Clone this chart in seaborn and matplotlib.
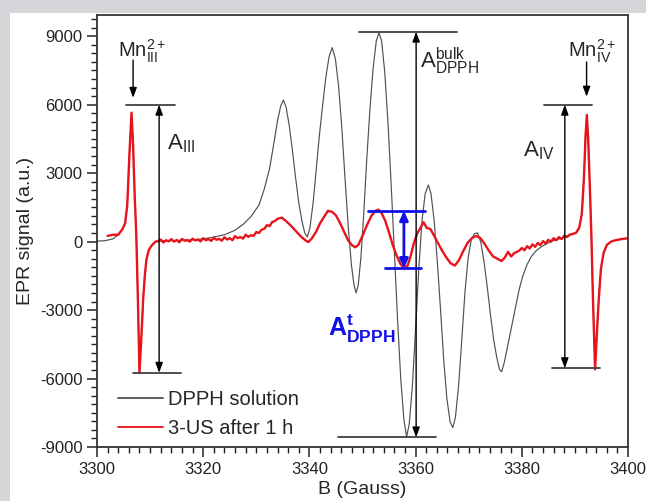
import numpy as np
import pandas as pd
import matplotlib
matplotlib.use("Agg")
import matplotlib.pyplot as plt
from matplotlib.patches import Rectangle
from matplotlib.ticker import MultipleLocator, AutoMinorLocator
import seaborn as sns

# ---------------- data ----------------
# shared Mn(2+) marker lines (present in both spectra)
mn3_b = [3304.0, 3304.8, 3305.3, 3305.7, 3306.1, 3306.5, 3306.8, 3307.1, 3307.4, 3307.7,
         3308.0, 3308.4, 3308.7, 3309.0, 3309.3, 3309.7, 3310.2, 3311.0]
mn3_y = [300, 550, 800, 1600, 3800, 5650, 4200, 2000, 300, -2500,
         -5750, -4000, -2500, -1500, -800, -400, -200, 0]

mn4_b = [3389.5, 3390.2, 3390.8, 3391.3, 3391.7, 3392.0, 3392.25, 3392.5, 3392.8, 3393.1,
         3393.4, 3393.8, 3394.1, 3394.5, 3394.9, 3395.4, 3396.0, 3396.8, 3397.5, 3398.5, 3400.0]
mn4_y = [330, 380, 600, 1200, 2800, 4600, 5550, 4500, 2500, 300,
         -2500, -5600, -4200, -2500, -1200, -500, -150, 0, 50, 100, 150]

# DPPH solution (bulk) between the Mn lines
dpph_lead_b = [3300.0, 3301.5, 3303.0]
dpph_lead_y = [20, 40, 120]
dpph_b = [3312, 3315, 3318, 3320, 3322, 3324, 3326, 3327.5, 3329, 3330.5, 3331.5, 3332.5,
          3333.3, 3334.0, 3334.6, 3335.1, 3335.6, 3336.2, 3336.8, 3337.4, 3338.0, 3338.6,
          3339.1, 3339.6, 3340.1, 3340.7, 3341.3, 3341.9, 3342.5, 3343.1, 3343.7, 3344.3,
          3344.9, 3345.5, 3346.1, 3346.7, 3347.3, 3347.9, 3348.4, 3348.8, 3349.2, 3349.7,
          3350.2, 3350.8, 3351.4, 3352.0, 3352.6, 3353.1, 3353.6, 3354.2, 3354.8, 3355.4,
          3356.0, 3356.6, 3357.2, 3357.8, 3358.3, 3358.8, 3359.4, 3360.0, 3360.6, 3361.2,
          3361.8, 3362.4, 3362.9, 3363.5, 3364.1, 3364.7, 3365.3, 3365.9, 3366.5, 3367.0,
          3367.5, 3368.1, 3368.7, 3369.3, 3369.9, 3370.5, 3371.1, 3371.7, 3372.3, 3372.9,
          3373.5, 3374.1, 3374.7, 3375.3, 3375.8, 3376.2, 3376.7, 3377.4, 3378.1, 3378.8,
          3379.5, 3380.2, 3381.0, 3381.8, 3382.7, 3383.7, 3384.8, 3386.0, 3387.5, 3388.5, 3389.0]
dpph_y = [30, 50, 80, 120, 200, 300, 500, 750, 1100, 1600, 2300, 3200,
          4300, 5300, 5950, 6200, 5900, 5100, 4000, 2800, 1700, 900,
          400, 200, 600, 1700, 3200, 4700, 6000, 7200, 8100, 8500,
          8000, 6800, 5000, 2800, 700, -1000, -1900, -2250, -1900, -700,
          1100, 3600, 5800, 7600, 8800, 9150, 8800, 7400, 5200, 2500,
          -400, -3400, -6000, -7800, -8550, -8000, -6300, -3800, -1200, 900,
          2100, 2480, 2100, 900, -900, -3000, -5200, -6900, -7900, -8150,
          -7700, -6300, -4300, -2200, -700, 100, 350, 380, -50, -900,
          -2000, -3200, -4300, -5100, -5600, -5700, -5300, -4500, -3700, -2900,
          -2100, -1500, -1000, -650, -400, -220, -80, 50, 150, 250, 300]

# 3-US after 1 h (noisy trace, read point by point)
us_lead_b = [3302.0, 3303.0]
us_lead_y = [250, 300]
us_b = [3311.5, 3312, 3312.5, 3313, 3313.5, 3314, 3314.5, 3315, 3315.5, 3316, 3316.5, 3317,
        3317.5, 3318, 3318.5, 3319, 3319.5, 3320, 3320.5, 3321, 3321.5, 3322, 3322.5, 3323,
        3323.5, 3324, 3324.5, 3325, 3325.5, 3326, 3326.5, 3327, 3327.5, 3328, 3328.5, 3329,
        3329.5, 3330, 3330.5, 3331, 3331.5, 3332, 3332.5, 3333, 3333.5, 3334, 3334.8, 3335.6,
        3336.5, 3337.5, 3338.5, 3339.3, 3339.8, 3340.5, 3341.3, 3342, 3342.8, 3343.5, 3344.3,
        3345, 3345.8, 3346.5, 3347.3, 3348, 3348.6, 3349.2, 3350, 3350.8, 3351.6, 3352.4,
        3353.0, 3353.6, 3354.3, 3355, 3355.7, 3356.4, 3357.2, 3357.9, 3358.5, 3359.1, 3359.7,
        3360.3, 3360.9, 3361.5, 3362.1, 3362.8, 3363.5, 3364.2, 3365.0, 3365.8, 3366.6, 3367.4,
        3368.2, 3369.0, 3369.8, 3370.6, 3371.4, 3372.2, 3373, 3373.8, 3374.6, 3375.4, 3376.2,
        3376.8, 3377.4, 3378.0, 3378.6, 3379.5, 3380.0, 3380.5, 3381.0, 3381.5, 3382.0, 3382.5,
        3383.0, 3383.5, 3384.0, 3384.5, 3385.0, 3385.5, 3386.0, 3386.5, 3387.0, 3387.5, 3388.0,
        3388.5, 3389.0]
us_y = [20, 90, -40, 60, 10, 110, 0, 70, -30, 120, 40, 60, 0, 130, 50, 90, 10, 150, 60,
        110, 30, 170, 80, 120, 40, 190, 90, 150, 60, 240, 150, 200, 130, 300, 210, 280,
        250, 420, 380, 520, 560, 720, 680, 860, 900, 1000, 1050, 900,
        700, 450, 200, 50, -20, 150, 450, 800, 1100, 1350, 1300,
        1150, 800, 450, 50, -150, -250, -150, 250, 700, 1100, 1350,
        1400, 1250, 900, 400, -150, -600, -1000, -1150, -1050, -600, -50,
        350, 600, 850, 600, 550, 250, -50, -400, -700, -950, -1050,
        -800, -400, -50, 150, 250, 150, -100, -400, -650, -750, -850,
        -700, -450, -650, -500, -400, -280, -380, -200, -300, -120, -230,
        -60, -150, 20, -80, 80, 0, 150, 60, 200, 110, 260,
        200, 300]

series_names = ["DPPH solution", "3-US after 1 h"]

# annotation values (data units)
a3_top, a3_bot = 6000, -5750
a4_top, a4_bot = 6000, -5550
bulk_top, bulk_bot = 9200, -8580
t_top, t_bot = 1350, -1175

# ---------------- build long table ----------------
b_d = dpph_lead_b + mn3_b + dpph_b + mn4_b
y_d = dpph_lead_y + mn3_y + dpph_y + mn4_y
b_u = us_lead_b + mn3_b + us_b + mn4_b
y_u = us_lead_y + mn3_y + us_y + mn4_y
df = pd.DataFrame({
    "B": b_d + b_u,
    "signal": y_d + y_u,
    "series": [series_names[0]] * len(b_d) + [series_names[1]] * len(b_u),
})

# ---------------- style ----------------
sns.set_style("ticks")
plt.rcParams["font.family"] = ["Liberation Sans", "DejaVu Sans"]
plt.rcParams["axes.unicode_minus"] = False
plt.rcParams["mathtext.fontset"] = "custom"
plt.rcParams["mathtext.rm"] = "Liberation Sans"
plt.rcParams["mathtext.it"] = "Liberation Sans"
plt.rcParams["mathtext.bf"] = "Liberation Sans:bold"

W, H = 646, 501
fig = plt.figure(figsize=(W / 100, H / 100), dpi=100, facecolor="#d4d5d9")
bg = fig.add_axes([10 / W, 0, 1 - 10 / W, 1 - 13 / H], zorder=-5)
bg.set_axis_off()
bg.add_patch(Rectangle((0, 0), 1, 1, transform=bg.transAxes, facecolor="white",
                       edgecolor="none"))
ax = fig.add_axes([97 / W, 1 - 447 / H, (628 - 97) / W, (447 - 15) / H], zorder=1)
ax.set_facecolor("white")

palette = {series_names[0]: "#505050", series_names[1]: "#e8141c"}
sns.lineplot(data=df, x="B", y="signal", hue="series", palette=palette,
             estimator=None, sort=False, ax=ax, legend=True)
lines = ax.get_lines()
lines[0].set_linewidth(0.85)
lines[1].set_linewidth(1.7)

ax.set_xlim(3300, 3400)
ax.set_ylim(-9000, 9930)
ax.xaxis.set_major_locator(MultipleLocator(20))
ax.xaxis.set_minor_locator(AutoMinorLocator(10))
ax.yaxis.set_major_locator(MultipleLocator(3000))
ax.yaxis.set_minor_locator(AutoMinorLocator(8))
ax.tick_params(which="major", direction="out", length=7, width=1.1, labelsize=12, colors="#222")
ax.tick_params(which="minor", direction="out", length=4, width=1.0, colors="#222")
for s in ax.spines.values():
    s.set_linewidth(1.3)
    s.set_color("#333")
ax.set_xlabel("B (Gauss)", fontsize=14, labelpad=3)
ax.set_ylabel("EPR signal (a.u.)", fontsize=14, labelpad=4)

# ---------------- annotations ----------------
hl = dict(color="#404040", lw=1.3, zorder=3)
ax.plot([3305.5, 3314.7], [a3_top, a3_top], **hl)
ax.plot([3306.8, 3315.8], [a3_bot, a3_bot], **hl)
ax.plot([3384.1, 3393.3], [a4_top, a4_top], **hl)
ax.plot([3385.6, 3394.7], [a4_bot, a4_bot], **hl)
ax.plot([3349.3, 3367.8], [bulk_top, bulk_top], **hl)
ax.plot([3345.4, 3363.8], [bulk_bot, bulk_bot], **hl)

darr = dict(arrowstyle="<|-|>,head_length=0.6,head_width=0.22", color="black", lw=1.0,
            shrinkA=0, shrinkB=0)
ax.annotate("", xy=(3311.7, a3_bot), xytext=(3311.7, a3_top), arrowprops=darr)
ax.annotate("", xy=(3388.1, a4_bot), xytext=(3388.1, a4_top), arrowprops=darr)
ax.annotate("", xy=(3360.1, bulk_bot), xytext=(3360.1, bulk_top), arrowprops=darr)

sarr = dict(arrowstyle="-|>,head_length=0.6,head_width=0.22", color="black", lw=1.0,
            shrinkA=0, shrinkB=0)
ax.annotate("", xy=(3306.8, 6300), xytext=(3306.8, 7950), arrowprops=sarr)
ax.annotate("", xy=(3392.2, 6350), xytext=(3392.2, 7870), arrowprops=sarr)

# blue A^t_DPPH
bl = dict(color="#1010e8", lw=2.0, zorder=4)
ax.plot([3351.1, 3361.8], [t_top, t_top], **bl)
ax.plot([3354.2, 3361.1], [t_bot, t_bot], **bl)
barr = dict(arrowstyle="<|-|>,head_length=0.55,head_width=0.25", color="#1010e8", lw=2.0,
            shrinkA=0, shrinkB=0)
ax.annotate("", xy=(3357.8, t_bot), xytext=(3357.8, t_top), arrowprops=barr)

ax.text(3308.4, 8350, r"$\mathregular{Mn^{2+}_{III}}$", fontsize=14.5, ha="center", va="center")
ax.text(3393.3, 8350, r"$\mathregular{Mn^{2+}_{IV}}$", fontsize=14.5, ha="center", va="center")
ax.text(3313.2, 4300, r"$\mathregular{A_{III}}$", fontsize=16, ha="left", va="center")
ax.text(3380.3, 4000, r"$\mathregular{A_{IV}}$", fontsize=16, ha="left", va="center")
ax.text(3360.9, 7900, r"$\mathregular{A^{bulk}_{DPPH}}$", fontsize=16, ha="left", va="center")
ax.text(3343.5, -3800, r"$\mathbf{A^{t}_{DPPH}}$", fontsize=18, ha="left", va="center",
        color="#1010e8")

leg = ax.legend(loc="lower left", bbox_to_anchor=(0.0395, 0.021), frameon=False,
                fontsize=14.5, handlelength=2.24, handletextpad=0.25, labelspacing=0.47,
                borderpad=0, borderaxespad=0)
for h in leg.get_lines():
    h.set_linewidth(1.3)

fig.savefig("out.png", dpi=100, facecolor=fig.get_facecolor())
